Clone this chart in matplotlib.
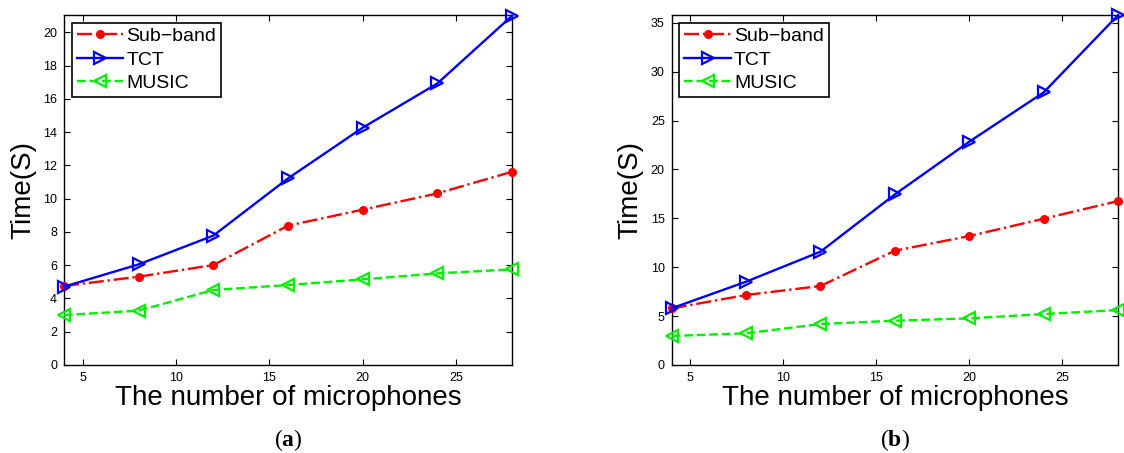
import matplotlib
matplotlib.use("Agg")
import matplotlib.pyplot as plt

plt.rcParams['font.family'] = ['Liberation Sans', 'DejaVu Sans']
plt.rcParams['mathtext.fontset'] = 'custom'
plt.rcParams['mathtext.rm'] = 'Liberation Serif'
plt.rcParams['mathtext.bf'] = 'Liberation Serif:bold'

mics = [4, 8, 12, 16, 20, 24, 28]

# panel (a)
subband_a = [4.75, 5.31, 6.01, 8.38, 9.34, 10.32, 11.62]
tct_a = [4.71, 6.05, 7.78, 11.22, 14.27, 16.93, 21.0]
music_a = [3.0, 3.27, 4.51, 4.81, 5.15, 5.51, 5.75]

# panel (b)
subband_b = [5.79, 7.16, 8.08, 11.69, 13.19, 14.96, 16.77]
tct_b = [5.8, 8.52, 11.59, 17.45, 22.84, 27.88, 35.79]
music_b = [2.97, 3.24, 4.19, 4.53, 4.77, 5.21, 5.62]

xticks = [5, 10, 15, 20, 25]
yticks_a = list(range(0, 21, 2))
yticks_b = list(range(0, 36, 5))


def draw_panel(ax, sub, tct, mus, ymax, yticks, caption):
    ax.plot(mics, sub, color='red', linestyle='-.', linewidth=1.7, marker='o',
            markersize=5.5, label='Sub\u2212band', clip_on=False, zorder=3)
    ax.plot(mics, tct, color='blue', linestyle='-', linewidth=1.7, marker='>',
            markersize=8.5, markerfacecolor='none', markeredgewidth=1.6,
            label='TCT', clip_on=False, zorder=3)
    ax.plot(mics, mus, color='#00f000', linestyle='--', linewidth=1.7, marker='<',
            markersize=8.5, markerfacecolor='none', markeredgewidth=1.6,
            label='MUSIC', clip_on=False, zorder=3)
    ax.set_xlim(4, 28)
    ax.set_ylim(0, ymax)
    ax.set_xticks(xticks)
    ax.set_yticks(yticks)
    ax.tick_params(direction='in', top=True, right=True, labelsize=9,
                   length=4, pad=5)
    ax.set_xlabel('The number of microphones', fontsize=20, labelpad=1)
    ax.set_ylabel('Time(S)', fontsize=20, labelpad=5)
    for s in ax.spines.values():
        s.set_linewidth(1.0)
    leg = ax.legend(loc='upper left', fontsize=14, fancybox=False,
                    framealpha=1, edgecolor='black', handlelength=2.4,
                    borderpad=0.25, labelspacing=0.3, handletextpad=0.15,
                    borderaxespad=0.4)
    leg.get_frame().set_linewidth(1.2)
    ax.text(0.5, -0.214, caption, transform=ax.transAxes, ha='center',
            va='center', fontsize=17)


fig = plt.figure(figsize=(11.24, 4.53), dpi=100)
ax1 = fig.add_axes([0.0569, 0.1943, 0.3986, 0.7726])
ax2 = fig.add_axes([0.5976, 0.1943, 0.3971, 0.7726])

draw_panel(ax1, subband_a, tct_a, music_a, 21.05, yticks_a, r'$(\mathbf{a})$')
draw_panel(ax2, subband_b, tct_b, music_b, 35.8, yticks_b, r'$(\mathbf{b})$')

fig.savefig('out.png', dpi=100)
